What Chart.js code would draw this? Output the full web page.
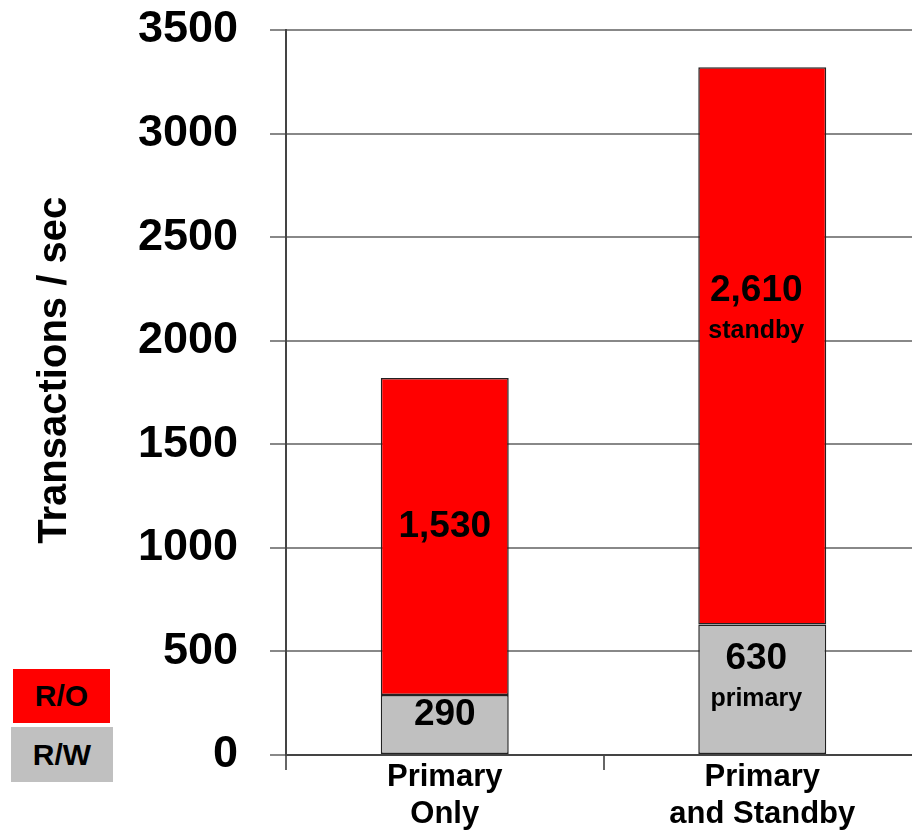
<!DOCTYPE html>
<html lang="en">
<head>
<meta charset="UTF-8">
<title>Transactions / sec</title>
<script src="https://cdn.jsdelivr.net/npm/chart.js"></script>
<style>
    html, body { margin: 0; padding: 0; background: #fff; overflow: hidden; }
    #wrap { position: relative; width: 930px; height: 830px; }
    .key {
        position: absolute;
        font: bold 30px "Liberation Sans", Arial, sans-serif;
        color: #000;
        display: flex; align-items: center; justify-content: center;
    }
    #ro { left: 13px; top: 669px; width: 97px; height: 54px; background: #ff0000; }
    #rw { left: 11px; top: 727px; width: 102px; height: 55px; background: #c0c0c0; }
</style>
</head>
<body>
<div id="wrap">
    <canvas id="chart" width="930" height="830"></canvas>
    <div class="key" id="ro">R/O</div>
    <div class="key" id="rw">R/W</div>
</div>
<script>
    // categories and values
    const categories = [['Primary', 'Only'], ['Primary', 'and Standby']];
    const rwValues = [290, 630];
    const roValues = [1530, 2690];
    const rwLabels = [['290'], ['630', 'primary']];
    const roLabels = [['1,530'], ['2,610', 'standby']];
    const yTicks = [0, 500, 1000, 1500, 2000, 2500, 3000, 3500];

    const FONT = '"Liberation Sans", Arial, sans-serif';

    // text inside the bars
    const barText = {
        id: 'barText',
        afterDatasetsDraw(chart) {
            const ctx = chart.ctx;
            const sets = [rwLabels, roLabels];
            ctx.save();
            ctx.fillStyle = '#000';
            ctx.textAlign = 'center';
            ctx.textBaseline = 'middle';
            sets.forEach((labels, di) => {
                chart.getDatasetMeta(di).data.forEach((bar, i) => {
                    const lines = labels[i];
                    const mid = (bar.y + bar.base) / 2 - 10 - (di * i * 25);
                    const top = mid - (lines.length - 1) * 20;
                    lines.forEach((t, k) => {
                        ctx.font = k === 0 ? 'bold 37px ' + FONT : 'bold 25px ' + FONT;
                        ctx.fillText(t, bar.x - 6 * i, top + k * 40);
                    });
                });
            });
            ctx.restore();
        }
    };

    new Chart(document.getElementById('chart'), {
        type: 'bar',
        data: {
            labels: categories,
            datasets: [{
                label: 'R/W',
                data: rwValues,
                backgroundColor: '#c0c0c0',
                borderColor: '#222',
                borderWidth: 1.5,
                borderSkipped: false
            }, {
                label: 'R/O',
                data: roValues,
                backgroundColor: '#ff0000',
                borderColor: '#222',
                borderWidth: 1.5,
                borderSkipped: false
            }]
        },
        options: {
            responsive: false,
            animation: false,
            barPercentage: 0.403,
            categoryPercentage: 1,
            layout: { padding: { top: 30, right: 9, left: 0, bottom: 0 } },
            plugins: {
                legend: { display: false },
                tooltip: { enabled: false }
            },
            scales: {
                x: {
                    stacked: true,
                    afterFit(s) { s.height = 75; },
                    grid: { drawOnChartArea: false, tickLength: 15, color: '#666', lineWidth: 2 },
                    border: { color: '#444', width: 2 },
                    ticks: {
                        color: '#000',
                        padding: -11.6,
                        maxRotation: 0,
                        font: { family: FONT, size: 31, weight: 'bold' }
                    }
                },
                y: {
                    stacked: true,
                    min: 0,
                    max: 3500,
                    afterFit(s) {
                        s.width = 286;
                        s.paddingTop = 0;
                        s.paddingBottom = 0;
                    },
                    afterBuildTicks(s) { s.ticks = yTicks.map(v => ({ value: v })); },
                    grid: { color: '#888', lineWidth: 2, tickLength: 16 },
                    border: { color: '#444', width: 2 },
                    ticks: {
                        color: '#000',
                        padding: 32,
                        callback: v => String(v),
                        font: { family: FONT, size: 45, weight: 'bold' }
                    },
                    title: {
                        display: true,
                        text: '    Transactions / sec',
                        color: '#000',
                        padding: { top: 31, bottom: 0 },
                        font: { family: FONT, size: 40, weight: 'bold' }
                    }
                }
            }
        },
        plugins: [barText]
    });
</script>
</body>
</html>
